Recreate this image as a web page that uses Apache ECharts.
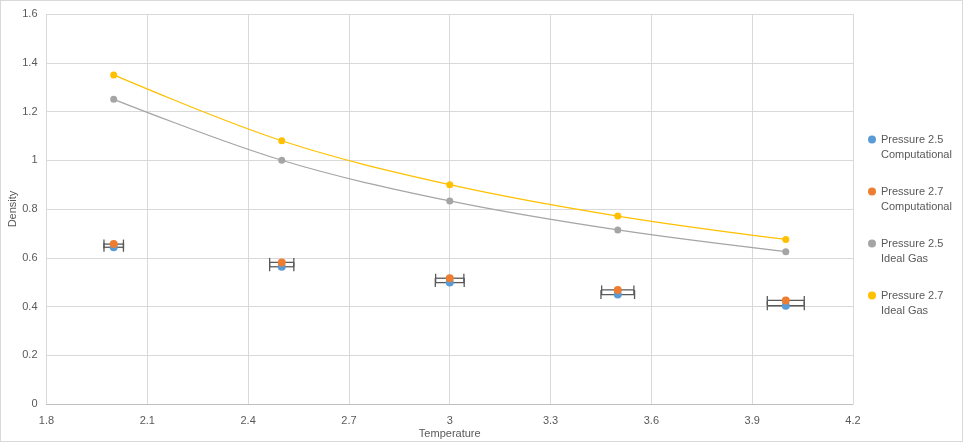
<!DOCTYPE html>
<html>
<head>
<meta charset="utf-8">
<script src="https://cdn.jsdelivr.net/npm/echarts@6/dist/echarts.min.js"></script>
<style>
html,body{margin:0;padding:0;background:#fff;}
#wrap{position:relative;width:963px;height:442px;}
#chart{position:absolute;left:0;top:0;width:963px;height:442px;}
#border{position:absolute;left:0;top:0;width:963px;height:442px;box-sizing:border-box;border:1px solid #D9D9D9;pointer-events:none;}
</style>
</head>
<body>
<div id="wrap"><div id="chart"></div><div id="border"></div></div>
<script>
// Data
var temps = [2, 2.5, 3, 3.5, 4];
var p25Comp = [0.643, 0.563, 0.498, 0.449, 0.403];
var p27Comp = [0.656, 0.581, 0.516, 0.468, 0.425];
var p25CompErr = [0.029, 0.036, 0.043, 0.050, 0.055];
var p27CompErr = [0.029, 0.036, 0.042, 0.048, 0.055];
var p25Ideal = [1.25, 1.0, 0.833, 0.714, 0.625];
var p27Ideal = [1.35, 1.08, 0.9, 0.771, 0.675];
var seriesNames = ['Pressure 2.5\nComputational', 'Pressure 2.7\nComputational', 'Pressure 2.5\nIdeal Gas', 'Pressure 2.7\nIdeal Gas'];
var colors = ['#5B9BD5', '#ED7D31', '#A5A5A5', '#FFC000'];

function pairs(xs, ys) { return xs.map(function (x, i) { return [x, ys[i]]; }); }
function errData(xs, ys, es) { return xs.map(function (x, i) { return [x, ys[i], x - es[i], x + es[i]]; }); }

function errRender(params, api) {
  var y = api.value(1);
  var lo = api.coord([api.value(2), y]);
  var hi = api.coord([api.value(3), y]);
  var st = { stroke: '#595959', lineWidth: 1.3 };
  var cap = 4.5;
  return {
    type: 'group',
    children: [
      { type: 'line', shape: { x1: lo[0], y1: lo[1], x2: hi[0], y2: hi[1] }, style: st },
      { type: 'line', shape: { x1: lo[0], y1: lo[1] - cap, x2: lo[0], y2: lo[1] + cap }, style: st },
      { type: 'line', shape: { x1: hi[0], y1: hi[1] - cap, x2: hi[0], y2: hi[1] + cap }, style: st }
    ]
  };
}

var fontFam = 'Liberation Sans';
function fmt(v) { return String(Math.round(v * 10) / 10); }

var chart = echarts.init(document.getElementById('chart'), null, { renderer: 'canvas' });
chart.setOption({
  animation: false,
  color: colors,
  grid: { left: 46.5, right: 110, top: 14, bottom: 38, containLabel: false, outerBoundsMode: 'none' },
  xAxis: {
    type: 'value', min: 1.8, max: 4.2, interval: 0.3,
    name: 'Temperature', nameLocation: 'middle', nameGap: 24, nameMoveOverlap: false,
    nameTextStyle: { color: '#595959', fontSize: 11, fontFamily: fontFam },
    axisLine: { show: true, lineStyle: { color: '#BFBFBF' } },
    axisTick: { show: false },
    axisLabel: { color: '#595959', fontSize: 11, fontFamily: fontFam, margin: 11, formatter: fmt },
    splitLine: { show: true, lineStyle: { color: '#D9D9D9' } }
  },
  yAxis: {
    type: 'value', min: 0, max: 1.6, interval: 0.2,
    name: 'Density', nameLocation: 'middle', nameGap: 28, nameRotate: 90, nameMoveOverlap: false,
    nameTextStyle: { color: '#595959', fontSize: 11, fontFamily: fontFam },
    axisLine: { show: false },
    axisTick: { show: false },
    axisLabel: { color: '#595959', fontSize: 11, fontFamily: fontFam, margin: 9, formatter: fmt },
    splitLine: { show: true, lineStyle: { color: '#D9D9D9' } }
  },
  legend: {
    orient: 'vertical', left: 863, top: 112,
    icon: 'circle', itemWidth: 8, itemHeight: 8, itemGap: 7,
    data: seriesNames,
    formatter: function (name) { return '\u00a0\n' + name; },
    textStyle: { color: '#595959', fontSize: 11, fontFamily: fontFam, lineHeight: 15 }
  },
  series: [
    { name: seriesNames[0] + ' err', type: 'custom', renderItem: errRender, data: errData(temps, p25Comp, p25CompErr), encode: { x: [0, 2, 3], y: 1 }, z: 2, silent: true },
    { name: seriesNames[0], type: 'scatter', data: pairs(temps, p25Comp), symbolSize: 8, itemStyle: { color: colors[0], opacity: 1 }, z: 3 },
    { name: seriesNames[1] + ' err', type: 'custom', renderItem: errRender, data: errData(temps, p27Comp, p27CompErr), encode: { x: [0, 2, 3], y: 1 }, z: 4, silent: true },
    { name: seriesNames[1], type: 'scatter', data: pairs(temps, p27Comp), symbolSize: 8, itemStyle: { color: colors[1], opacity: 1 }, z: 5 },
    { name: seriesNames[2], type: 'line', smooth: 0.35, data: pairs(temps, p25Ideal), symbol: 'circle', symbolSize: 7, showSymbol: true,
      lineStyle: { color: colors[2], width: 1.3 }, itemStyle: { color: colors[2] }, z: 6 },
    { name: seriesNames[3], type: 'line', smooth: 0.35, data: pairs(temps, p27Ideal), symbol: 'circle', symbolSize: 7, showSymbol: true,
      lineStyle: { color: colors[3], width: 1.3 }, itemStyle: { color: colors[3] }, z: 7 }
  ]
});
</script>
</body>
</html>
